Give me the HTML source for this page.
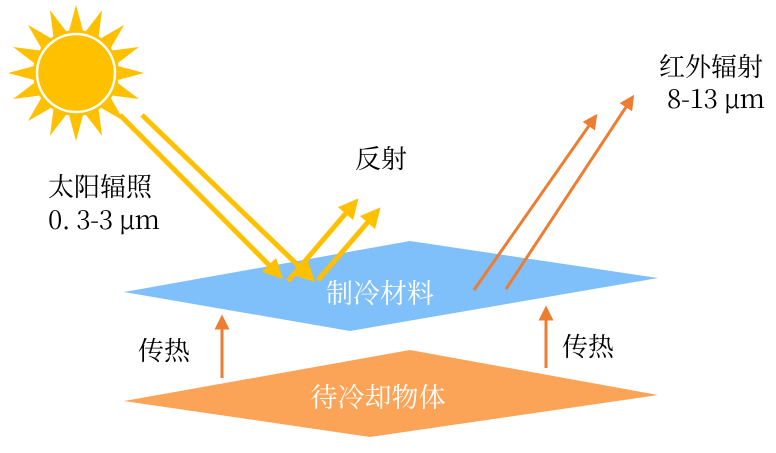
<!DOCTYPE html>
<html><head><meta charset="utf-8"><style>
body{margin:0;background:#fff;}
svg text{font-family:"Noto Serif CJK SC","Liberation Serif",serif;}
</style></head><body>
<svg width="776" height="448" viewBox="0 0 776 448" xmlns="http://www.w3.org/2000/svg">
<defs>
<marker id="ya" markerWidth="4" markerHeight="4" refX="2" refY="2" orient="auto" markerUnits="strokeWidth"><path d="M0,0 L4,2 L0,4 z" fill="#FFC000"/></marker>
<marker id="oa" markerWidth="5" markerHeight="5" refX="2.5" refY="2.5" orient="auto" markerUnits="strokeWidth"><path d="M0,0 L5,2.5 L0,5 z" fill="#ED7D31"/></marker>
</defs>
<!-- sun -->
<g transform="translate(76,73)" fill="#FFC000">
<polygon points="42,-7 68,0 42,7" transform="rotate(0)"/>
<polygon points="42,-7 68,0 42,7" transform="rotate(22.5)"/>
<polygon points="42,-7 68,0 42,7" transform="rotate(45)"/>
<polygon points="42,-7 68,0 42,7" transform="rotate(67.5)"/>
<polygon points="42,-7 68,0 42,7" transform="rotate(90)"/>
<polygon points="42,-7 68,0 42,7" transform="rotate(112.5)"/>
<polygon points="42,-7 68,0 42,7" transform="rotate(135)"/>
<polygon points="42,-7 68,0 42,7" transform="rotate(157.5)"/>
<polygon points="42,-7 68,0 42,7" transform="rotate(180)"/>
<polygon points="42,-7 68,0 42,7" transform="rotate(202.5)"/>
<polygon points="42,-7 68,0 42,7" transform="rotate(225)"/>
<polygon points="42,-7 68,0 42,7" transform="rotate(247.5)"/>
<polygon points="42,-7 68,0 42,7" transform="rotate(270)"/>
<polygon points="42,-7 68,0 42,7" transform="rotate(292.5)"/>
<polygon points="42,-7 68,0 42,7" transform="rotate(315)"/>
<polygon points="42,-7 68,0 42,7" transform="rotate(337.5)"/>
<circle r="43" fill="#FFC000"/>
<circle r="39" fill="none" stroke="#fff" stroke-width="2.5"/>
</g>
<!-- planes -->
<polygon points="124,292 410,241 658,278 350,331" fill="#7FBFFA"/>
<polygon points="124,401 410,350 658,395 370,437" fill="#FBA356"/>
<!-- yellow arrows -->
<g stroke="#FFC000" stroke-width="5" fill="none">
<line x1="120" y1="115" x2="276" y2="272" marker-end="url(#ya)"/>
<line x1="142" y1="115" x2="308" y2="275" marker-end="url(#ya)"/>
<line x1="288" y1="281" x2="352" y2="206" marker-end="url(#ya)"/>
<line x1="318" y1="280" x2="374" y2="215" marker-end="url(#ya)"/>
</g>
<!-- orange -->
<g stroke="#ED7D31" stroke-width="3" fill="none">
<line x1="474" y1="290" x2="593" y2="120" marker-end="url(#oa)"/>
<line x1="506" y1="289" x2="630" y2="101" marker-end="url(#oa)"/>
<line x1="222" y1="378" x2="222" y2="322" marker-end="url(#oa)"/>
<line x1="546" y1="368" x2="546" y2="313" marker-end="url(#oa)"/>
</g>
<!-- text -->
<g font-size="26" fill="#000">
<text x="48" y="196">太阳辐照</text>
<text x="48" y="229" textLength="112">0. 3-3 μm</text>
<text x="355" y="168">反射</text>
<text x="659" y="76">红外辐射</text>
<text x="667" y="108" textLength="98">8-13 μm</text>
<text x="138" y="360">传热</text>
<text x="562" y="356">传热</text>
</g>
<text x="380" y="303" font-size="27" fill="#fff" text-anchor="middle">制冷材料</text>
<text x="378" y="407" font-size="27" fill="#fff" text-anchor="middle">待冷却物体</text>
</svg>
</body></html>
